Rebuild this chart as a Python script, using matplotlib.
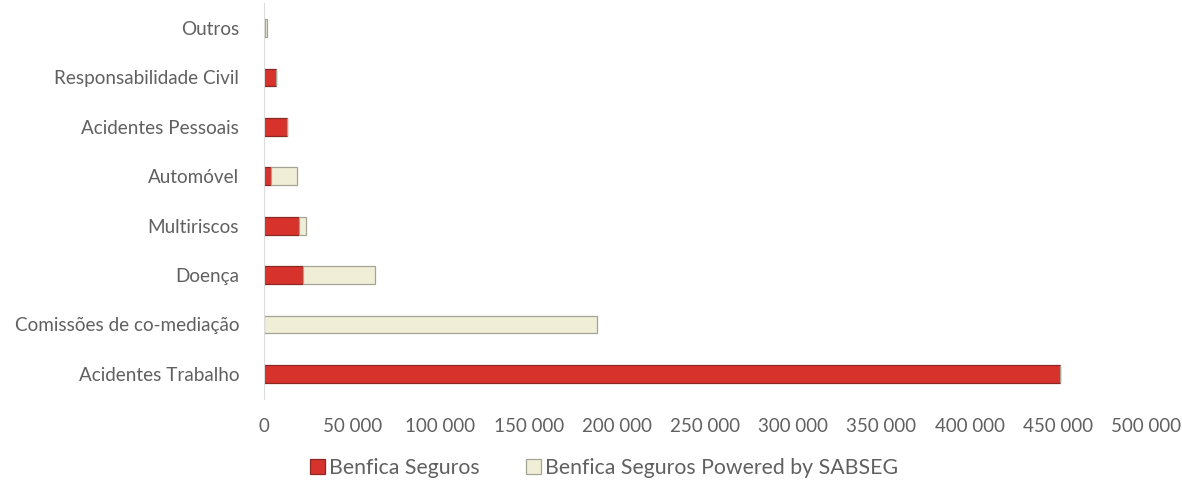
import matplotlib.pyplot as plt
from matplotlib.ticker import FuncFormatter

plt.rcParams['font.family'] = ['Lato', 'DejaVu Sans']

# Ramos (de baixo para cima)
ramos = ['Acidentes Trabalho', 'Comissões de co-mediação', 'Doença', 'Multiriscos',
         'Automóvel', 'Acidentes Pessoais', 'Responsabilidade Civil', 'Outros']
benfica_seguros = [451000, 0, 22100, 19800, 4000, 13000, 7000, 500]
powered_by_sabseg = [0, 188800, 40800, 4000, 14700, 0, 0, 1000]

fig = plt.figure(figsize=(11.82, 4.86), dpi=100)
ax = fig.add_axes([0.2234, 0.180, 0.7462, 0.813])

pos = range(len(ramos))
ax.barh(pos, benfica_seguros, height=0.36, color='#d8322d', edgecolor='#8a2824',
        linewidth=0.9, label='Benfica Seguros')
ax.barh(pos, powered_by_sabseg, left=benfica_seguros, height=0.36, color='#f1eed8',
        edgecolor='#a5a394', linewidth=0.9, label='Benfica Seguros Powered by SABSEG')

ax.set_xlim(0, 500000)
ax.set_ylim(-0.5, len(ramos) - 0.5)
ax.set_xticks(range(0, 500001, 50000))
ax.xaxis.set_major_formatter(FuncFormatter(lambda v, p: f'{int(v):,}'.replace(',', ' ')))
ax.set_yticks(list(pos))
ax.set_yticklabels(ramos)

for s in ['top', 'right', 'bottom']:
    ax.spines[s].set_visible(False)
ax.spines['left'].set_color('#dcdcdc')
ax.tick_params(axis='both', length=0, colors='#606060')
ax.tick_params(axis='x', pad=14, labelsize=13.5)
ax.tick_params(axis='y', pad=18, labelsize=13.6)

leg = fig.legend(loc='center', bbox_to_anchor=(0.511, 0.037), ncol=2, frameon=False,
                 fontsize=15.3, handlelength=0.7, handleheight=0.7, columnspacing=2.2,
                 handletextpad=0.2)
for t in leg.get_texts():
    t.set_color('#606060')

fig.savefig('out.png', dpi=100)
